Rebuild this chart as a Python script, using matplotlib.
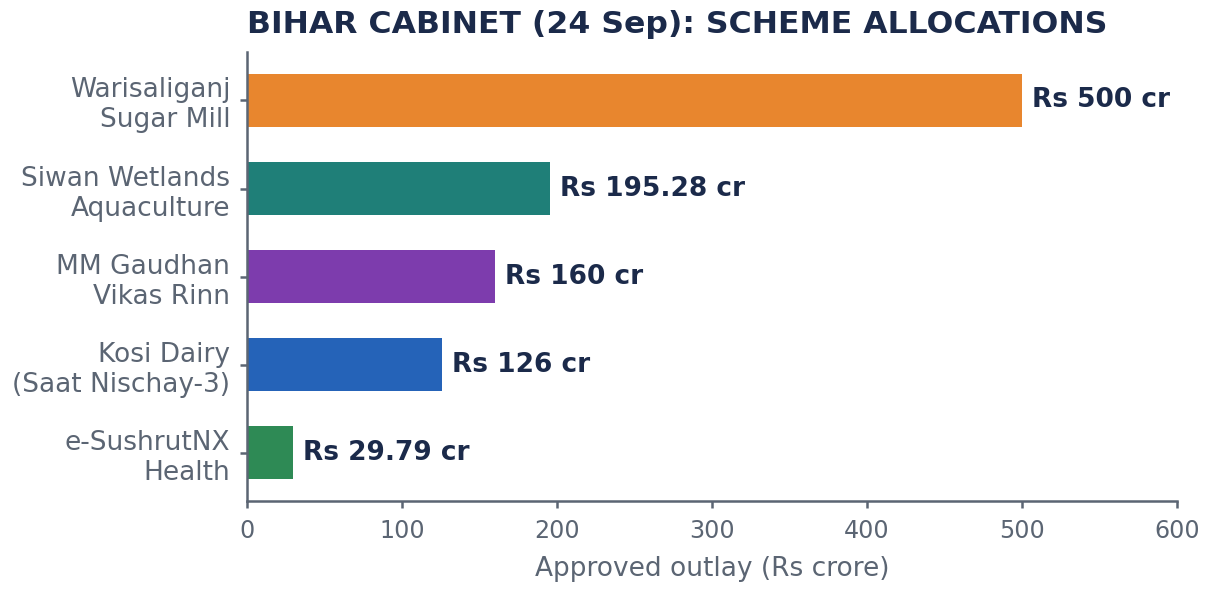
import matplotlib
matplotlib.use("Agg")
import matplotlib.pyplot as plt

# scheme outlays, Bihar cabinet 24 Sep
schemes = [
    "Warisaliganj\nSugar Mill",
    "Siwan Wetlands\nAquaculture",
    "MM Gaudhan\nVikas Rinn",
    "Kosi Dairy\n(Saat Nischay-3)",
    "e-SushrutNX\nHealth",
]
outlays = [500, 195.28, 160, 126, 29.79]
value_labels = ["Rs 500 cr", "Rs 195.28 cr", "Rs 160 cr", "Rs 126 cr", "Rs 29.79 cr"]
bar_colors = ["#E8862E", "#1F7F78", "#7D3CAD", "#2563B8", "#2E8A55"]

NAVY = "#1B2A4A"
GREY = "#5B6573"

fig = plt.figure(figsize=(12.12 / 1.5, 5.9 / 1.5), dpi=150)
ax = fig.add_axes([247 / 1212, 89.5 / 590, 930 / 1212, 448.5 / 590])

ypos = list(range(len(schemes)))[::-1]
ax.barh(ypos, outlays, height=0.6, color=bar_colors)

for y, v, lab in zip(ypos, outlays, value_labels):
    ax.annotate(lab, (v, y), xytext=(4.8, 0), textcoords="offset points",
                va="center", ha="left", fontsize=12.7, fontweight="bold",
                color=NAVY)

ax.set_yticks(ypos)
ax.set_yticklabels(schemes, fontsize=12.7, color=GREY, linespacing=1.2)
ax.set_ylim(-0.54, 4.55)
ax.set_xlim(0, 600)
ax.set_xticks([0, 100, 200, 300, 400, 500, 600])
ax.tick_params(axis="x", labelsize=11.4, colors=GREY, pad=5.5, width=1.2)
ax.tick_params(axis="y", colors=GREY, pad=4.5, width=1.2)
ax.set_xlabel("Approved outlay (Rs crore)", fontsize=12.7, color=GREY, labelpad=6)

for side in ("top", "right"):
    ax.spines[side].set_visible(False)
for side in ("left", "bottom"):
    ax.spines[side].set_color(GREY)
    ax.spines[side].set_linewidth(1.2)

ax.set_title("BIHAR CABINET (24 Sep): SCHEME ALLOCATIONS", loc="left",
             fontsize=15.1, fontweight="bold", color=NAVY, pad=9)

fig.savefig("out.png", dpi=150)
